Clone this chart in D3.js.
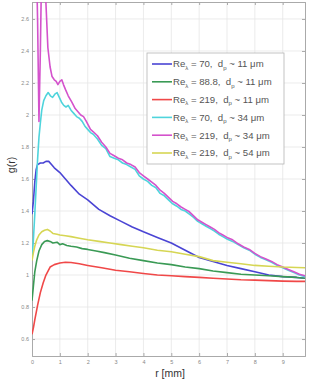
<!DOCTYPE html>
<html><head><meta charset="utf-8">
<script src="https://cdn.jsdelivr.net/npm/d3@7"></script>
<style>body{margin:0;background:#fff}svg{display:block}</style>
</head><body>
<svg id="c" width="323" height="380"></svg>
<script>
const xTicks = [0,1,2,3,4,5,6,7,8,9];
const yTicks = [0.6,0.8,1,1.2,1.4,1.6,1.8,2,2.2,2.4,2.6];

const blueR = [0,0.05,0.1,0.15,0.2,0.3,0.4,0.5,0.6,0.7,0.8,1.0,1.2,1.4,1.7,2.0,2.4,2.8,3.2,3.6,4.0,4.5,5.0,5.5,6.0,6.5,7.0,7.5,8.0,8.5,9.0,9.5,9.8];
const blueG = [1.38,1.46,1.58,1.66,1.69,1.70,1.70,1.71,1.71,1.69,1.67,1.64,1.60,1.56,1.505,1.47,1.41,1.37,1.335,1.30,1.27,1.235,1.20,1.155,1.11,1.085,1.06,1.04,1.02,1.0,0.99,0.985,0.98];

const greenR = [0,0.05,0.1,0.17,0.25,0.35,0.45,0.55,0.65,0.75,0.9,1.0,1.1,1.25,1.4,1.6,1.8,2.0,2.3,2.6,3.0,3.5,4.0,4.5,5.0,5.5,6.0,6.5,7.0,7.5,8.0,8.5,9.0,9.5,9.8];
const greenG = [0.84,0.93,1.02,1.09,1.15,1.19,1.21,1.215,1.21,1.20,1.205,1.19,1.195,1.185,1.18,1.175,1.165,1.16,1.15,1.14,1.125,1.105,1.09,1.075,1.065,1.05,1.04,1.025,1.015,1.005,1.0,0.995,0.99,0.985,0.98];

const redR = [0,0.05,0.1,0.2,0.3,0.4,0.5,0.65,0.8,1.0,1.2,1.4,1.7,2.0,2.5,3.0,3.5,4.0,4.5,5.0,5.5,6.0,6.5,7.0,7.5,8.0,8.5,9.0,9.5,9.8];
const redG = [0.63,0.67,0.72,0.81,0.89,0.95,1.0,1.05,1.065,1.075,1.08,1.078,1.07,1.06,1.045,1.03,1.02,1.01,1.0,0.995,0.99,0.985,0.98,0.975,0.97,0.968,0.965,0.962,0.96,0.96];

const cyanR = [0,0.05,0.1,0.15,0.2,0.25,0.3,0.35,0.42,0.5,0.58,0.66,0.74,0.82,0.9,0.98,1.06,1.14,1.22,1.3,1.4,1.5,1.6,1.7,1.8,1.9,2.0,2.1,2.2,2.35,2.5,2.65,2.8,2.95,3.1,3.25,3.4,3.55,3.7,3.85,4.0,4.15,4.3,4.45,4.6,4.75,4.9,5.05,5.2,5.35,5.5,5.65,5.8,5.95,6.1,6.25,6.4,6.55,6.7,6.85,7.0,7.2,7.4,7.6,7.8,8.0,8.2,8.4,8.6,8.8,9.0,9.2,9.4,9.6,9.8];
const cyanG = [1.10,1.22,1.38,1.55,1.72,1.86,1.95,2.03,2.09,2.12,2.14,2.12,2.11,2.13,2.14,2.11,2.08,2.06,2.05,2.06,2.03,2.01,1.99,1.98,1.96,1.93,1.91,1.89,1.88,1.85,1.81,1.79,1.74,1.73,1.72,1.70,1.69,1.675,1.66,1.62,1.60,1.585,1.56,1.545,1.51,1.495,1.47,1.445,1.43,1.41,1.40,1.38,1.36,1.335,1.32,1.305,1.29,1.275,1.255,1.24,1.225,1.21,1.19,1.17,1.155,1.13,1.11,1.095,1.08,1.06,1.045,1.03,1.015,1.0,0.99];

const magR = [0.12,0.2,0.25,0.3,0.37,0.44,0.5,0.57,0.65,0.72,0.8,0.87,0.93,1.0,1.07,1.13,1.2,1.3,1.43,1.55,1.65,1.75,1.85,1.95,2.1,2.2,2.35,2.5,2.65,2.8,2.95,3.1,3.25,3.4,3.55,3.7,3.85,4.0,4.15,4.3,4.45,4.6,4.75,4.9,5.05,5.2,5.35,5.5,5.65,5.8,5.95,6.1,6.25,6.4,6.55,6.7,6.85,7.0,7.2,7.4,7.6,7.8,8.0,8.2,8.4,8.6,8.8,9.0,9.2,9.4,9.6,9.8];
const magG = [3.3,2.6,1.96,2.4,3.2,3.1,2.7,2.42,2.3,2.24,2.22,2.21,2.19,2.21,2.22,2.19,2.16,2.12,2.08,2.04,2.02,2.0,1.99,1.96,1.91,1.895,1.87,1.83,1.80,1.76,1.745,1.73,1.72,1.70,1.69,1.675,1.64,1.62,1.60,1.58,1.56,1.53,1.51,1.485,1.46,1.445,1.425,1.41,1.395,1.37,1.345,1.33,1.315,1.30,1.285,1.265,1.25,1.235,1.22,1.195,1.175,1.16,1.135,1.115,1.10,1.085,1.065,1.05,1.035,1.02,1.005,0.995];

const yelR = [0,0.05,0.1,0.17,0.25,0.35,0.45,0.55,0.65,0.75,0.9,1.0,1.2,1.4,1.7,2.0,2.4,2.8,3.2,3.6,4.0,4.5,5.0,5.5,6.0,6.5,7.0,7.5,8.0,8.5,9.0,9.5,9.8];
const yelG = [1.09,1.14,1.18,1.22,1.25,1.27,1.28,1.285,1.275,1.26,1.255,1.25,1.245,1.24,1.23,1.22,1.21,1.20,1.19,1.18,1.17,1.155,1.145,1.13,1.115,1.09,1.08,1.07,1.06,1.055,1.05,1.047,1.045];

const seriesRe = ["70","88.8","219","70","219","219"];
const seriesDp = ["11","11","11","34","34","54"];
const seriesColors = ["#4a44d4","#3a9a55","#f04848","#4fd4dc","#d452cc","#d6d654"];
const seriesR = [blueR,greenR,redR,cyanR,magR,yelR];
const seriesG = [blueG,greenG,redG,cyanG,magG,yelG];

const svg = d3.select("#c");
const L=32,R=305,T=2,B=356;
const x = d3.scaleLinear().domain([0,9.8]).range([L,R]);
const y = d3.scaleLinear().domain([0.494,2.706]).range([B,T]);

// grid
svg.append("g").selectAll("line").data(xTicks.slice(1)).join("line")
  .attr("x1",d=>x(d)).attr("x2",d=>x(d)).attr("y1",T).attr("y2",B)
  .attr("stroke","#e6e6e6").attr("stroke-width",0.8);
svg.append("g").selectAll("line").data(yTicks).join("line")
  .attr("x1",L).attr("x2",R).attr("y1",d=>y(d)).attr("y2",d=>y(d))
  .attr("stroke","#e6e6e6").attr("stroke-width",0.8);

// axes
const ax = svg.append("g").attr("transform",`translate(0,${B})`)
  .call(d3.axisBottom(x).tickValues(xTicks).tickSize(-3).tickPadding(4).tickFormat(d3.format("d")));
const ay = svg.append("g").attr("transform",`translate(${L},0)`)
  .call(d3.axisLeft(y).tickValues(yTicks).tickSize(-3).tickPadding(3).tickFormat(d=>d3.format("")(d)));
const axT = svg.append("g").attr("transform",`translate(0,${T})`)
  .call(d3.axisTop(x).tickValues(xTicks).tickSize(-3).tickFormat(""));
const ayR = svg.append("g").attr("transform",`translate(${R},0)`)
  .call(d3.axisRight(y).tickValues(yTicks).tickSize(-3).tickFormat(""));
[ax,ay,axT,ayR].forEach(g=>{
  g.select(".domain").attr("stroke","#aaa").attr("stroke-width",1);
  g.selectAll(".tick line").attr("stroke","#aaa");
  g.selectAll(".tick text").attr("fill","#888").style("font-family","Liberation Sans, Arial, sans-serif").style("font-size","5.5px");
});

// clip
svg.append("clipPath").attr("id","clip").append("rect").attr("x",L).attr("y",T).attr("width",R-L).attr("height",B-T);

const line = d3.line().x(d=>x(d[0])).y(d=>y(d[1]));
const plot = svg.append("g").attr("clip-path","url(#clip)");
seriesR.forEach((rs,i)=>{
  const pts = rs.map((r,j)=>[r,seriesG[i][j]]);
  plot.append("path").datum(pts).attr("d",line).attr("fill","none")
    .attr("stroke",seriesColors[i]).attr("stroke-width",1.6).attr("stroke-linejoin","round");
});

// legend
const lg = svg.append("g");
lg.append("rect").attr("x",147).attr("y",53).attr("width",137).attr("height",111)
  .attr("fill","#fff").attr("stroke","#b4b4b4").attr("stroke-width",0.8);
const rowY = d3.scaleLinear().domain([0,5]).range([64,153]);
seriesRe.forEach((re,i)=>{
  const dp = seriesDp[i];
  const yy = rowY(i);
  lg.append("line").attr("x1",152).attr("x2",172).attr("y1",yy).attr("y2",yy)
    .attr("stroke",seriesColors[i]).attr("stroke-width",1.6);
  const t = lg.append("text").attr("x",173).attr("y",yy+3.3)
    .style("font-family","Liberation Sans, Arial, sans-serif").style("font-size","9.6px")
    .style("white-space","pre").attr("fill","#555");
  t.append("tspan").text("Re");
  t.append("tspan").attr("dy",2.5).style("font-size","6px").text("λ");
  t.append("tspan").attr("dy",-2.5).text(` = ${re},  d`);
  t.append("tspan").attr("dy",2.5).style("font-size","6px").text("p");
  t.append("tspan").attr("dy",-2.5).text(` ~ ${dp} μm`);
});

// labels
svg.append("text").attr("x",170).attr("y",377).attr("text-anchor","middle")
  .style("font-family","Liberation Sans, Arial, sans-serif").style("font-size","10.5px").attr("fill","#333").text("r [mm]");
svg.append("text").attr("transform","translate(15,165) rotate(-90)").attr("text-anchor","middle")
  .style("font-family","Liberation Sans, Arial, sans-serif").style("font-size","10.5px").attr("fill","#333").text("g(r)");
</script>
</body></html>
